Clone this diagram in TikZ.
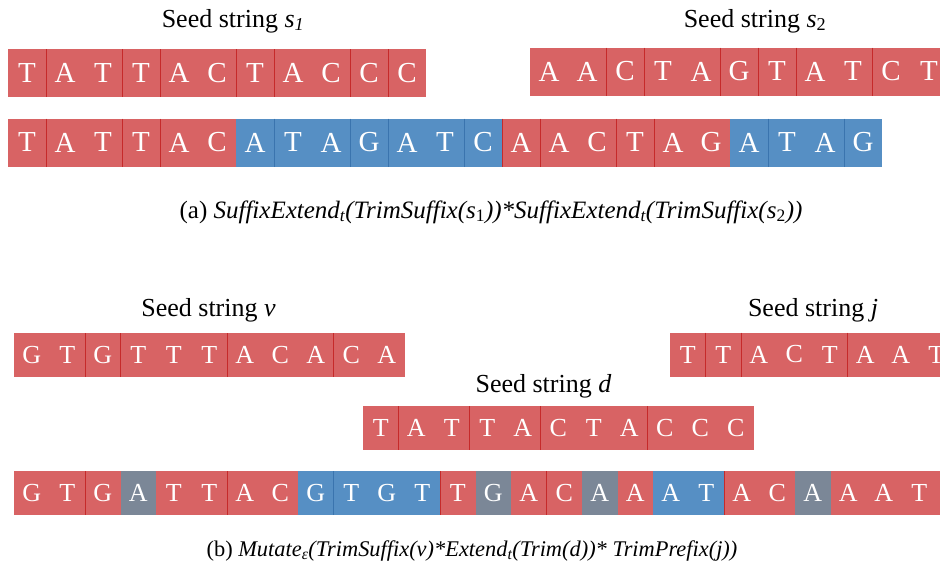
\documentclass[tikz,border=0pt]{standalone}
\usepackage{fontspec}
\setmainfont{Liberation Serif}
\usepackage{xcolor}
\usepackage{tikz}

\definecolor{seedred}{HTML}{D86364}
\definecolor{seedblue}{HTML}{568FC4}
\definecolor{seedgray}{HTML}{7B8797}
\definecolor{redline}{HTML}{C62A2A}
\definecolor{blueline}{HTML}{3A74AE}

\begin{document}
\begin{tikzpicture}[x=1pt, y=-1pt,
        base/.style={inner sep=0pt, outer sep=0pt, text=white},
        cella/.style={base, minimum width=38pt, minimum height=48pt, font=\fontsize{29}{29}\selectfont},
        cellb/.style={base, minimum width=35.5pt, minimum height=44pt, font=\fontsize{26}{26}\selectfont},
        seedtitle/.style={anchor=base, font=\fontsize{26}{30}\selectfont},
        divr/.style={draw=redline, line width=1pt},
        divb/.style={draw=blueline, line width=1pt}]
        \useasboundingbox (0,0) rectangle (940,568);
        \clip (0,0) rectangle (940,568);

        % (a) two seed strings
        \node[seedtitle] (tone) at (233,27) {Seed string \textit{s\textsubscript{1}}};
        \node[seedtitle] (ttwo) at (755,27) {Seed string \textit{s}\textsubscript{2}};
        \fill[seedred] (8,49) rectangle (426,97);
        \foreach \ch [count=\k from 0] in {T,A,T,T,A,C,T,A,C,C,C}
            \node[cella] (sone\k) at ({27+38*\k},73) {\ch};
        \foreach \k in {1,3,4,6,7,9,10}
            \draw[divr] (sone\k.north west) -- (sone\k.south west);
        \fill[seedred] (530,47.5) rectangle (950,95.5);
        \foreach \ch [count=\k from 0] in {A,A,C,T,A,G,T,A,T,C,T}
            \node[cella] (stwo\k) at ({549+38*\k},71.5) {\ch};
        \foreach \k in {2,3,5,6,7,9}
            \draw[divr] (stwo\k.north west) -- (stwo\k.south west);

        % (a) joined string
        \fill[seedred] (8,118.5) rectangle (882,166.5);
        \fill[seedblue] (236,118.5) rectangle (502,166.5);
        \fill[seedblue] (730,118.5) rectangle (882,166.5);
        \foreach \ch [count=\k from 0] in {T,A,T,T,A,C,A,T,A,G,A,T,C,A,A,C,T,A,G,A,T,A,G}
            \node[cella] (join\k) at ({27+38*\k},142.5) {\ch};
        \foreach \k in {1,3,4,13,14,16,17}
            \draw[divr] (join\k.north west) -- (join\k.south west);
        \foreach \k in {7,9,10,12,20,22}
            \draw[divb] (join\k.north west) -- (join\k.south west);
        \node[anchor=base, font=\fontsize{25}{29}\selectfont] (capa) at (491,218) {(a) \textit{SuffixExtend\textsubscript{t}(TrimSuffix(s\textsubscript{\upshape 1}))*SuffixExtend\textsubscript{t}(TrimSuffix(s\textsubscript{\upshape 2}))}};

        % (b) three seed strings
        \node[seedtitle] (tv) at (208.5,316) {Seed string \textit{v}};
        \node[seedtitle] (tj) at (813,316) {Seed string \textit{j}};
        \node[seedtitle] (td) at (543.5,392) {Seed string \textit{d}};
        \fill[seedred] (14,333) rectangle (404.5,377);
        \foreach \ch [count=\k from 0] in {G,T,G,T,T,T,A,C,A,C,A}
            \node[cellb] (vs\k) at ({31.75+35.5*\k},355) {\ch};
        \foreach \k in {2,3,6,9}
            \draw[divr] (vs\k.north west) -- (vs\k.south west);
        \fill[seedred] (670,332.5) rectangle (954,376.5);
        \foreach \ch [count=\k from 0] in {T,T,A,C,T,A,A,T}
            \node[cellb] (js\k) at ({687.75+35.5*\k},354.5) {\ch};
        \foreach \k in {1,2,5}
            \draw[divr] (js\k.north west) -- (js\k.south west);
        \fill[seedred] (363,406) rectangle (753.5,450);
        \foreach \ch [count=\k from 0] in {T,A,T,T,A,C,T,A,C,C,C}
            \node[cellb] (ds\k) at ({380.75+35.5*\k},428) {\ch};
        \foreach \k in {1,3,5,8}
            \draw[divr] (ds\k.north west) -- (ds\k.south west);

        % (b) mutated string
        \fill[seedred] (14,471) rectangle (940,515);
        \foreach \a/\b/\col in {120.5/156/seedgray, 298/440/seedblue, 475.5/511/seedgray,
                582/617.5/seedgray, 653/724/seedblue, 795/830.5/seedgray}
            \fill[\col] (\a,471) rectangle (\b,515);
        \foreach \ch [count=\k from 0] in {G,T,G,A,T,T,A,C,G,T,G,T,T,G,A,C,A,A,A,T,A,C,A,A,A,T}
            \node[cellb] (mut\k) at ({31.75+35.5*\k},493) {\ch};
        \foreach \k in {2,6,12,15,20}
            \draw[divr] (mut\k.north west) -- (mut\k.south west);
        \draw[divb] (mut9.north west) -- (mut9.south west);
        \node[anchor=base, font=\fontsize{22.4}{26}\selectfont] (capb) at (472,556) {(b) \textit{Mutate\textsubscript{ε}(TrimSuffix(v)*Extend\textsubscript{t}(Trim(d))* TrimPrefix(j))}};
    \end{tikzpicture}
\end{document}
